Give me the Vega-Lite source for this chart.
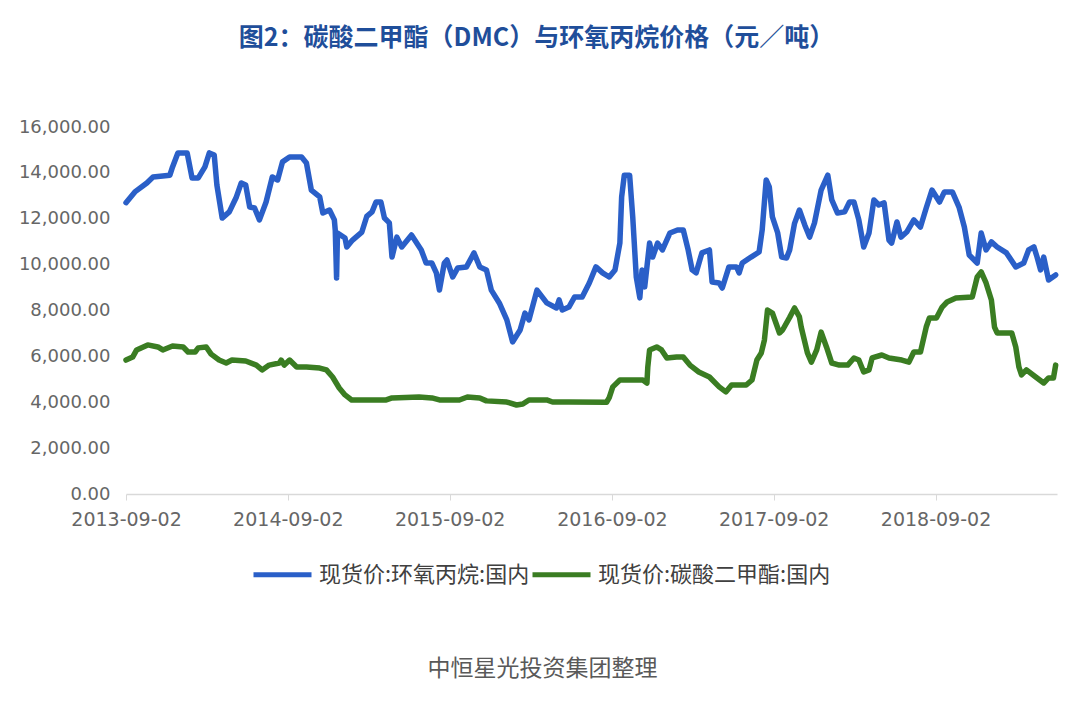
{
  "$schema": "https://vega.github.io/schema/vega-lite/v6.json",
  "autosize": {"type": "none"},
  "width": 931,
  "height": 367,
  "padding": {"left": 126, "top": 127, "right": 23, "bottom": 212},
  "background": "#ffffff",
  "title": {
    "text": "图2：碳酸二甲酯（DMC）与环氧丙烷价格（元／吨）",
    "font": "Noto Sans CJK SC",
    "fontSize": 25,
    "fontWeight": "bold",
    "color": "#1F4E9A",
    "anchor": "middle",
    "frame": "group",
    "offset": 67,
    "dx": -55
  },
  "config": {
    "view": {"stroke": null},
    "font": "Noto Sans CJK SC"
  },
  "data": {
    "values": [
      {"d": "2013-09-02", "s": "现货价:环氧丙烷:国内", "v": 12700},
      {"d": "2013-09-22", "s": "现货价:环氧丙烷:国内", "v": 13170},
      {"d": "2013-10-19", "s": "现货价:环氧丙烷:国内", "v": 13560},
      {"d": "2013-11-02", "s": "现货价:环氧丙烷:国内", "v": 13820},
      {"d": "2013-12-10", "s": "现货价:环氧丙烷:国内", "v": 13900},
      {"d": "2013-12-16", "s": "现货价:环氧丙烷:国内", "v": 14260},
      {"d": "2013-12-28", "s": "现货价:环氧丙烷:国内", "v": 14870},
      {"d": "2014-01-18", "s": "现货价:环氧丙烷:国内", "v": 14870},
      {"d": "2014-01-29", "s": "现货价:环氧丙烷:国内", "v": 13780},
      {"d": "2014-02-12", "s": "现货价:环氧丙烷:国内", "v": 13780},
      {"d": "2014-02-27", "s": "现货价:环氧丙烷:国内", "v": 14260},
      {"d": "2014-03-09", "s": "现货价:环氧丙烷:国内", "v": 14870},
      {"d": "2014-03-20", "s": "现货价:环氧丙烷:国内", "v": 14780},
      {"d": "2014-03-26", "s": "现货价:环氧丙烷:国内", "v": 13470},
      {"d": "2014-04-07", "s": "现货价:环氧丙烷:国内", "v": 12030},
      {"d": "2014-04-23", "s": "现货价:环氧丙烷:国内", "v": 12300},
      {"d": "2014-05-09", "s": "现货价:环氧丙烷:国内", "v": 12950},
      {"d": "2014-05-20", "s": "现货价:环氧丙烷:国内", "v": 13560},
      {"d": "2014-05-30", "s": "现货价:环氧丙烷:国内", "v": 13470},
      {"d": "2014-06-08", "s": "现货价:环氧丙烷:国内", "v": 12510},
      {"d": "2014-06-19", "s": "现货价:环氧丙烷:国内", "v": 12470},
      {"d": "2014-06-30", "s": "现货价:环氧丙烷:国内", "v": 11950},
      {"d": "2014-07-15", "s": "现货价:环氧丙烷:国内", "v": 12730},
      {"d": "2014-07-29", "s": "现货价:环氧丙烷:国内", "v": 13820},
      {"d": "2014-08-10", "s": "现货价:环氧丙烷:国内", "v": 13690},
      {"d": "2014-08-21", "s": "现货价:环氧丙烷:国内", "v": 14480},
      {"d": "2014-09-06", "s": "现货价:环氧丙烷:国内", "v": 14690},
      {"d": "2014-10-03", "s": "现货价:环氧丙烷:国内", "v": 14690},
      {"d": "2014-10-14", "s": "现货价:环氧丙烷:国内", "v": 14430},
      {"d": "2014-10-25", "s": "现货价:环氧丙烷:国内", "v": 13250},
      {"d": "2014-11-13", "s": "现货价:环氧丙烷:国内", "v": 12950},
      {"d": "2014-11-20", "s": "现货价:环氧丙烷:国内", "v": 12250},
      {"d": "2014-12-05", "s": "现货价:环氧丙烷:国内", "v": 12380},
      {"d": "2014-12-16", "s": "现货价:环氧丙烷:国内", "v": 11950},
      {"d": "2014-12-18", "s": "现货价:环氧丙烷:国内", "v": 11500},
      {"d": "2014-12-21", "s": "现货价:环氧丙烷:国内", "v": 9420},
      {"d": "2014-12-23", "s": "现货价:环氧丙烷:国内", "v": 11380},
      {"d": "2015-01-09", "s": "现货价:环氧丙烷:国内", "v": 11160},
      {"d": "2015-01-13", "s": "现货价:环氧丙烷:国内", "v": 10770},
      {"d": "2015-01-26", "s": "现货价:环氧丙烷:国内", "v": 11070},
      {"d": "2015-02-16", "s": "现货价:环氧丙烷:国内", "v": 11420},
      {"d": "2015-02-27", "s": "现货价:环氧丙烷:国内", "v": 12100},
      {"d": "2015-03-11", "s": "现货价:环氧丙烷:国内", "v": 12300},
      {"d": "2015-03-20", "s": "现货价:环氧丙烷:国内", "v": 12730},
      {"d": "2015-03-31", "s": "现货价:环氧丙烷:国内", "v": 12730},
      {"d": "2015-04-08", "s": "现货价:环氧丙烷:国内", "v": 12030},
      {"d": "2015-04-19", "s": "现货价:环氧丙烷:国内", "v": 11820},
      {"d": "2015-04-25", "s": "现货价:环氧丙烷:国内", "v": 10330},
      {"d": "2015-05-06", "s": "现货价:环氧丙烷:国内", "v": 11200},
      {"d": "2015-05-17", "s": "现货价:环氧丙烷:国内", "v": 10770},
      {"d": "2015-06-08", "s": "现货价:环氧丙烷:国内", "v": 11290},
      {"d": "2015-06-30", "s": "现货价:环氧丙烷:国内", "v": 10640},
      {"d": "2015-07-11", "s": "现货价:环氧丙烷:国内", "v": 10070},
      {"d": "2015-07-24", "s": "现货价:环氧丙烷:国内", "v": 10070},
      {"d": "2015-08-03", "s": "现货价:环氧丙烷:国内", "v": 9640},
      {"d": "2015-08-10", "s": "现货价:环氧丙烷:国内", "v": 8890},
      {"d": "2015-08-21", "s": "现货价:环氧丙烷:国内", "v": 10070},
      {"d": "2015-08-27", "s": "现货价:环氧丙烷:国内", "v": 10200},
      {"d": "2015-09-09", "s": "现货价:环氧丙烷:国内", "v": 9460},
      {"d": "2015-09-20", "s": "现货价:环氧丙烷:国内", "v": 9850},
      {"d": "2015-10-10", "s": "现货价:环氧丙烷:国内", "v": 9900},
      {"d": "2015-10-27", "s": "现货价:环氧丙烷:国内", "v": 10510},
      {"d": "2015-11-09", "s": "现货价:环氧丙烷:国内", "v": 9900},
      {"d": "2015-11-24", "s": "现货价:环氧丙烷:国内", "v": 9770},
      {"d": "2015-12-05", "s": "现货价:环氧丙烷:国内", "v": 8890},
      {"d": "2015-12-23", "s": "现货价:环氧丙烷:国内", "v": 8330},
      {"d": "2016-01-09", "s": "现货价:环氧丙烷:国内", "v": 7590},
      {"d": "2016-01-22", "s": "现货价:环氧丙烷:国内", "v": 6630},
      {"d": "2016-02-08", "s": "现货价:环氧丙烷:国内", "v": 7150},
      {"d": "2016-02-19", "s": "现货价:环氧丙烷:国内", "v": 7890},
      {"d": "2016-02-28", "s": "现货价:环氧丙烷:国内", "v": 7590},
      {"d": "2016-03-17", "s": "现货价:环氧丙烷:国内", "v": 8890},
      {"d": "2016-04-08", "s": "现货价:环氧丙烷:国内", "v": 8330},
      {"d": "2016-04-30", "s": "现货价:环氧丙烷:国内", "v": 8110},
      {"d": "2016-05-06", "s": "现货价:环氧丙烷:国内", "v": 8460},
      {"d": "2016-05-13", "s": "现货价:环氧丙烷:国内", "v": 8020},
      {"d": "2016-05-28", "s": "现货价:环氧丙烷:国内", "v": 8150},
      {"d": "2016-06-10", "s": "现货价:环氧丙烷:国内", "v": 8590},
      {"d": "2016-06-27", "s": "现货价:环氧丙烷:国内", "v": 8590},
      {"d": "2016-07-13", "s": "现货价:环氧丙烷:国内", "v": 9200},
      {"d": "2016-07-28", "s": "现货价:环氧丙烷:国内", "v": 9900},
      {"d": "2016-08-12", "s": "现货价:环氧丙烷:国内", "v": 9640},
      {"d": "2016-08-27", "s": "现货价:环氧丙烷:国内", "v": 9460},
      {"d": "2016-09-09", "s": "现货价:环氧丙烷:国内", "v": 9770},
      {"d": "2016-09-20", "s": "现货价:环氧丙烷:国内", "v": 10940},
      {"d": "2016-09-24", "s": "现货价:环氧丙烷:国内", "v": 12950},
      {"d": "2016-09-30", "s": "现货价:环氧丙烷:国内", "v": 13900},
      {"d": "2016-10-12", "s": "现货价:环氧丙烷:国内", "v": 13900},
      {"d": "2016-10-19", "s": "现货价:环氧丙烷:国内", "v": 12080},
      {"d": "2016-10-27", "s": "现货价:环氧丙烷:国内", "v": 9460},
      {"d": "2016-11-04", "s": "现货价:环氧丙烷:国内", "v": 8550},
      {"d": "2016-11-09", "s": "现货价:环氧丙烷:国内", "v": 9770},
      {"d": "2016-11-15", "s": "现货价:环氧丙烷:国内", "v": 9030},
      {"d": "2016-11-26", "s": "现货价:环氧丙烷:国内", "v": 10940},
      {"d": "2016-12-03", "s": "现货价:环氧丙烷:国内", "v": 10330},
      {"d": "2016-12-14", "s": "现货价:环氧丙烷:国内", "v": 10940},
      {"d": "2016-12-25", "s": "现货价:环氧丙烷:国内", "v": 10640},
      {"d": "2017-01-11", "s": "现货价:环氧丙烷:国内", "v": 11380},
      {"d": "2017-01-28", "s": "现货价:环氧丙烷:国内", "v": 11510},
      {"d": "2017-02-10", "s": "现货价:环氧丙烷:国内", "v": 11510},
      {"d": "2017-02-21", "s": "现货价:环氧丙烷:国内", "v": 10640},
      {"d": "2017-03-02", "s": "现货价:环氧丙烷:国内", "v": 9770},
      {"d": "2017-03-11", "s": "现货价:环氧丙烷:国内", "v": 9640},
      {"d": "2017-03-24", "s": "现货价:环氧丙烷:国内", "v": 10510},
      {"d": "2017-04-10", "s": "现货价:环氧丙烷:国内", "v": 10640},
      {"d": "2017-04-16", "s": "现货价:环氧丙烷:国内", "v": 9240},
      {"d": "2017-05-02", "s": "现货价:环氧丙烷:国内", "v": 9200},
      {"d": "2017-05-09", "s": "现货价:环氧丙烷:国内", "v": 8980},
      {"d": "2017-05-24", "s": "现货价:环氧丙烷:国内", "v": 9900},
      {"d": "2017-06-10", "s": "现货价:环氧丙烷:国内", "v": 9900},
      {"d": "2017-06-16", "s": "现货价:环氧丙烷:国内", "v": 9640},
      {"d": "2017-06-23", "s": "现货价:环氧丙烷:国内", "v": 10070},
      {"d": "2017-07-13", "s": "现货价:环氧丙烷:国内", "v": 10330},
      {"d": "2017-07-31", "s": "现货价:环氧丙烷:国内", "v": 10550},
      {"d": "2017-08-07", "s": "现货价:环氧丙烷:国内", "v": 11510},
      {"d": "2017-08-16", "s": "现货价:环氧丙烷:国内", "v": 13690},
      {"d": "2017-08-23", "s": "现货价:环氧丙烷:国内", "v": 13390},
      {"d": "2017-08-30", "s": "现货价:环氧丙烷:国内", "v": 12080},
      {"d": "2017-09-11", "s": "现货价:环氧丙烷:国内", "v": 11380},
      {"d": "2017-09-20", "s": "现货价:环氧丙烷:国内", "v": 10330},
      {"d": "2017-10-01", "s": "现货价:环氧丙烷:国内", "v": 10290},
      {"d": "2017-10-08", "s": "现货价:环氧丙烷:国内", "v": 10640},
      {"d": "2017-10-19", "s": "现货价:环氧丙烷:国内", "v": 11800},
      {"d": "2017-10-30", "s": "现货价:环氧丙烷:国内", "v": 12380},
      {"d": "2017-11-11", "s": "现货价:环氧丙烷:国内", "v": 11730},
      {"d": "2017-11-22", "s": "现货价:环氧丙烷:国内", "v": 11200},
      {"d": "2017-12-03", "s": "现货价:环氧丙烷:国内", "v": 11820},
      {"d": "2017-12-18", "s": "现货价:环氧丙烷:国内", "v": 13250},
      {"d": "2018-01-02", "s": "现货价:环氧丙烷:国内", "v": 13900},
      {"d": "2018-01-11", "s": "现货价:环氧丙烷:国内", "v": 12820},
      {"d": "2018-01-24", "s": "现货价:环氧丙烷:国内", "v": 12250},
      {"d": "2018-02-09", "s": "现货价:环氧丙烷:国内", "v": 12300},
      {"d": "2018-02-20", "s": "现货价:环氧丙烷:国内", "v": 12730},
      {"d": "2018-03-02", "s": "现货价:环氧丙烷:国内", "v": 12730},
      {"d": "2018-03-13", "s": "现货价:环氧丙烷:国内", "v": 11950},
      {"d": "2018-03-24", "s": "现货价:环氧丙烷:国内", "v": 10770},
      {"d": "2018-04-05", "s": "现货价:环氧丙烷:国内", "v": 11380},
      {"d": "2018-04-16", "s": "现货价:环氧丙烷:国内", "v": 12820},
      {"d": "2018-04-27", "s": "现货价:环氧丙烷:国内", "v": 12600},
      {"d": "2018-05-09", "s": "现货价:环氧丙烷:国内", "v": 12690},
      {"d": "2018-05-20", "s": "现货价:环氧丙烷:国内", "v": 11070},
      {"d": "2018-05-26", "s": "现货价:环氧丙烷:国内", "v": 10940},
      {"d": "2018-06-07", "s": "现货价:环氧丙烷:国内", "v": 11860},
      {"d": "2018-06-16", "s": "现货价:环氧丙烷:国内", "v": 11200},
      {"d": "2018-06-29", "s": "现货价:环氧丙烷:国内", "v": 11420},
      {"d": "2018-07-15", "s": "现货价:环氧丙烷:国内", "v": 11950},
      {"d": "2018-07-30", "s": "现货价:环氧丙烷:国内", "v": 11640},
      {"d": "2018-08-12", "s": "现货价:环氧丙烷:国内", "v": 12470},
      {"d": "2018-08-25", "s": "现货价:环氧丙烷:国内", "v": 13250},
      {"d": "2018-09-11", "s": "现货价:环氧丙烷:国内", "v": 12730},
      {"d": "2018-09-22", "s": "现货价:环氧丙烷:国内", "v": 13170},
      {"d": "2018-10-10", "s": "现货价:环氧丙烷:国内", "v": 13170},
      {"d": "2018-10-25", "s": "现货价:环氧丙烷:国内", "v": 12510},
      {"d": "2018-11-06", "s": "现货价:环氧丙烷:国内", "v": 11640},
      {"d": "2018-11-17", "s": "现货价:环氧丙烷:国内", "v": 10420},
      {"d": "2018-12-05", "s": "现货价:环氧丙烷:国内", "v": 10070},
      {"d": "2018-12-14", "s": "现货价:环氧丙烷:国内", "v": 11380},
      {"d": "2018-12-25", "s": "现货价:环氧丙烷:国内", "v": 10640},
      {"d": "2019-01-06", "s": "现货价:环氧丙烷:国内", "v": 10990},
      {"d": "2019-01-19", "s": "现货价:环氧丙烷:国内", "v": 10770},
      {"d": "2019-02-09", "s": "现货价:环氧丙烷:国内", "v": 10510},
      {"d": "2019-03-02", "s": "现货价:环氧丙烷:国内", "v": 9900},
      {"d": "2019-03-20", "s": "现货价:环氧丙烷:国内", "v": 10070},
      {"d": "2019-03-31", "s": "现货价:环氧丙烷:国内", "v": 10640},
      {"d": "2019-04-12", "s": "现货价:环氧丙烷:国内", "v": 10770},
      {"d": "2019-04-19", "s": "现货价:环氧丙烷:国内", "v": 10330},
      {"d": "2019-04-27", "s": "现货价:环氧丙烷:国内", "v": 9770},
      {"d": "2019-05-04", "s": "现货价:环氧丙烷:国内", "v": 10330},
      {"d": "2019-05-15", "s": "现货价:环氧丙烷:国内", "v": 9330},
      {"d": "2019-05-31", "s": "现货价:环氧丙烷:国内", "v": 9550},

      {"d": "2013-09-02", "s": "现货价:碳酸二甲酯:国内", "v": 5840},
      {"d": "2013-09-17", "s": "现货价:碳酸二甲酯:国内", "v": 5970},
      {"d": "2013-09-26", "s": "现货价:碳酸二甲酯:国内", "v": 6280},
      {"d": "2013-10-21", "s": "现货价:碳酸二甲酯:国内", "v": 6500},
      {"d": "2013-11-13", "s": "现货价:碳酸二甲酯:国内", "v": 6410},
      {"d": "2013-11-24", "s": "现货价:碳酸二甲酯:国内", "v": 6280},
      {"d": "2013-12-16", "s": "现货价:碳酸二甲酯:国内", "v": 6450},
      {"d": "2014-01-09", "s": "现货价:碳酸二甲酯:国内", "v": 6410},
      {"d": "2014-01-20", "s": "现货价:碳酸二甲酯:国内", "v": 6190},
      {"d": "2014-02-05", "s": "现货价:碳酸二甲酯:国内", "v": 6190},
      {"d": "2014-02-12", "s": "现货价:碳酸二甲酯:国内", "v": 6370},
      {"d": "2014-03-02", "s": "现货价:碳酸二甲酯:国内", "v": 6410},
      {"d": "2014-03-13", "s": "现货价:碳酸二甲酯:国内", "v": 6100},
      {"d": "2014-03-31", "s": "现货价:碳酸二甲酯:国内", "v": 5840},
      {"d": "2014-04-16", "s": "现货价:碳酸二甲酯:国内", "v": 5710},
      {"d": "2014-04-29", "s": "现货价:碳酸二甲酯:国内", "v": 5840},
      {"d": "2014-05-30", "s": "现货价:碳酸二甲酯:国内", "v": 5800},
      {"d": "2014-06-23", "s": "现货价:碳酸二甲酯:国内", "v": 5620},
      {"d": "2014-07-06", "s": "现货价:碳酸二甲酯:国内", "v": 5410},
      {"d": "2014-07-22", "s": "现货价:碳酸二甲酯:国内", "v": 5620},
      {"d": "2014-08-14", "s": "现货价:碳酸二甲酯:国内", "v": 5710},
      {"d": "2014-08-18", "s": "现货价:碳酸二甲酯:国内", "v": 5840},
      {"d": "2014-08-25", "s": "现货价:碳酸二甲酯:国内", "v": 5620},
      {"d": "2014-09-06", "s": "现货价:碳酸二甲酯:国内", "v": 5840},
      {"d": "2014-09-22", "s": "现货价:碳酸二甲酯:国内", "v": 5540},
      {"d": "2014-10-14", "s": "现货价:碳酸二甲酯:国内", "v": 5540},
      {"d": "2014-11-13", "s": "现货价:碳酸二甲酯:国内", "v": 5490},
      {"d": "2014-11-28", "s": "现货价:碳酸二甲酯:国内", "v": 5410},
      {"d": "2014-12-12", "s": "现货价:碳酸二甲酯:国内", "v": 5100},
      {"d": "2014-12-27", "s": "现货价:碳酸二甲酯:国内", "v": 4620},
      {"d": "2015-01-09", "s": "现货价:碳酸二甲酯:国内", "v": 4320},
      {"d": "2015-01-24", "s": "现货价:碳酸二甲酯:国内", "v": 4100},
      {"d": "2015-04-12", "s": "现货价:碳酸二甲酯:国内", "v": 4100},
      {"d": "2015-04-25", "s": "现货价:碳酸二甲酯:国内", "v": 4190},
      {"d": "2015-06-25", "s": "现货价:碳酸二甲酯:国内", "v": 4230},
      {"d": "2015-07-24", "s": "现货价:碳酸二甲酯:国内", "v": 4190},
      {"d": "2015-08-10", "s": "现货价:碳酸二甲酯:国内", "v": 4100},
      {"d": "2015-09-24", "s": "现货价:碳酸二甲酯:国内", "v": 4100},
      {"d": "2015-10-12", "s": "现货价:碳酸二甲酯:国内", "v": 4230},
      {"d": "2015-11-09", "s": "现货价:碳酸二甲酯:国内", "v": 4190},
      {"d": "2015-11-24", "s": "现货价:碳酸二甲酯:国内", "v": 4060},
      {"d": "2016-01-09", "s": "现货价:碳酸二甲酯:国内", "v": 4010},
      {"d": "2016-01-31", "s": "现货价:碳酸二甲酯:国内", "v": 3880},
      {"d": "2016-02-14", "s": "现货价:碳酸二甲酯:国内", "v": 3920},
      {"d": "2016-02-28", "s": "现货价:碳酸二甲酯:国内", "v": 4100},
      {"d": "2016-04-08", "s": "现货价:碳酸二甲酯:国内", "v": 4100},
      {"d": "2016-04-21", "s": "现货价:碳酸二甲酯:国内", "v": 4010},
      {"d": "2016-05-28", "s": "现货价:碳酸二甲酯:国内", "v": 4010},
      {"d": "2016-08-21", "s": "现货价:碳酸二甲酯:国内", "v": 4000},
      {"d": "2016-08-27", "s": "现货价:碳酸二甲酯:国内", "v": 4200},
      {"d": "2016-09-04", "s": "现货价:碳酸二甲酯:国内", "v": 4670},
      {"d": "2016-09-20", "s": "现货价:碳酸二甲酯:国内", "v": 4970},
      {"d": "2016-11-11", "s": "现货价:碳酸二甲酯:国内", "v": 4970},
      {"d": "2016-11-20", "s": "现货价:碳酸二甲酯:国内", "v": 4840},
      {"d": "2016-11-22", "s": "现货价:碳酸二甲酯:国内", "v": 5540},
      {"d": "2016-11-26", "s": "现货价:碳酸二甲酯:国内", "v": 6280},
      {"d": "2016-12-12", "s": "现货价:碳酸二甲酯:国内", "v": 6410},
      {"d": "2016-12-23", "s": "现货价:碳酸二甲酯:国内", "v": 6280},
      {"d": "2017-01-04", "s": "现货价:碳酸二甲酯:国内", "v": 5930},
      {"d": "2017-01-26", "s": "现货价:碳酸二甲酯:国内", "v": 5970},
      {"d": "2017-02-10", "s": "现货价:碳酸二甲酯:国内", "v": 5970},
      {"d": "2017-02-25", "s": "现货价:碳酸二甲酯:国内", "v": 5620},
      {"d": "2017-03-17", "s": "现货价:碳酸二甲酯:国内", "v": 5320},
      {"d": "2017-04-10", "s": "现货价:碳酸二甲酯:国内", "v": 5100},
      {"d": "2017-05-02", "s": "现货价:碳酸二甲酯:国内", "v": 4670},
      {"d": "2017-05-17", "s": "现货价:碳酸二甲酯:国内", "v": 4450},
      {"d": "2017-05-30", "s": "现货价:碳酸二甲酯:国内", "v": 4750},
      {"d": "2017-07-02", "s": "现货价:碳酸二甲酯:国内", "v": 4750},
      {"d": "2017-07-15", "s": "现货价:碳酸二甲酯:国内", "v": 4970},
      {"d": "2017-07-26", "s": "现货价:碳酸二甲酯:国内", "v": 5840},
      {"d": "2017-08-05", "s": "现货价:碳酸二甲酯:国内", "v": 6150},
      {"d": "2017-08-12", "s": "现货价:碳酸二甲酯:国内", "v": 6710},
      {"d": "2017-08-19", "s": "现货价:碳酸二甲酯:国内", "v": 8020},
      {"d": "2017-08-30", "s": "现货价:碳酸二甲酯:国内", "v": 7890},
      {"d": "2017-09-15", "s": "现货价:碳酸二甲酯:国内", "v": 7020},
      {"d": "2017-09-22", "s": "现货价:碳酸二甲酯:国内", "v": 7150},
      {"d": "2017-10-08", "s": "现货价:碳酸二甲酯:国内", "v": 7700},
      {"d": "2017-10-19", "s": "现货价:碳酸二甲酯:国内", "v": 8110},
      {"d": "2017-10-30", "s": "现货价:碳酸二甲酯:国内", "v": 7720},
      {"d": "2017-11-03", "s": "现货价:碳酸二甲酯:国内", "v": 7280},
      {"d": "2017-11-17", "s": "现货价:碳酸二甲酯:国内", "v": 6150},
      {"d": "2017-11-26", "s": "现货价:碳酸二甲酯:国内", "v": 5750},
      {"d": "2017-12-08", "s": "现货价:碳酸二甲酯:国内", "v": 6280},
      {"d": "2017-12-18", "s": "现货价:碳酸二甲酯:国内", "v": 7060},
      {"d": "2017-12-30", "s": "现货价:碳酸二甲酯:国内", "v": 6410},
      {"d": "2018-01-11", "s": "现货价:碳酸二甲酯:国内", "v": 5710},
      {"d": "2018-01-28", "s": "现货价:碳酸二甲酯:国内", "v": 5620},
      {"d": "2018-02-16", "s": "现货价:碳酸二甲酯:国内", "v": 5620},
      {"d": "2018-03-02", "s": "现货价:碳酸二甲酯:国内", "v": 5930},
      {"d": "2018-03-13", "s": "现货价:碳酸二甲酯:国内", "v": 5840},
      {"d": "2018-03-24", "s": "现货价:碳酸二甲酯:国内", "v": 5320},
      {"d": "2018-04-05", "s": "现货价:碳酸二甲酯:国内", "v": 5410},
      {"d": "2018-04-12", "s": "现货价:碳酸二甲酯:国内", "v": 5930},
      {"d": "2018-05-04", "s": "现货价:碳酸二甲酯:国内", "v": 6060},
      {"d": "2018-05-20", "s": "现货价:碳酸二甲酯:国内", "v": 5930},
      {"d": "2018-06-18", "s": "现货价:碳酸二甲酯:国内", "v": 5840},
      {"d": "2018-07-04", "s": "现货价:碳酸二甲酯:国内", "v": 5750},
      {"d": "2018-07-15", "s": "现货价:碳酸二甲酯:国内", "v": 6190},
      {"d": "2018-07-30", "s": "现货价:碳酸二甲酯:国内", "v": 6190},
      {"d": "2018-08-12", "s": "现货价:碳酸二甲酯:国内", "v": 7280},
      {"d": "2018-08-19", "s": "现货价:碳酸二甲酯:国内", "v": 7670},
      {"d": "2018-09-04", "s": "现货价:碳酸二甲酯:国内", "v": 7670},
      {"d": "2018-09-17", "s": "现货价:碳酸二甲酯:国内", "v": 8150},
      {"d": "2018-09-28", "s": "现货价:碳酸二甲酯:国内", "v": 8370},
      {"d": "2018-10-18", "s": "现货价:碳酸二甲酯:国内", "v": 8550},
      {"d": "2018-11-24", "s": "现货价:碳酸二甲酯:国内", "v": 8590},
      {"d": "2018-12-05", "s": "现货价:碳酸二甲酯:国内", "v": 9460},
      {"d": "2018-12-14", "s": "现货价:碳酸二甲酯:国内", "v": 9680},
      {"d": "2018-12-25", "s": "现货价:碳酸二甲酯:国内", "v": 9200},
      {"d": "2019-01-06", "s": "现货价:碳酸二甲酯:国内", "v": 8460},
      {"d": "2019-01-13", "s": "现货价:碳酸二甲酯:国内", "v": 7280},
      {"d": "2019-01-19", "s": "现货价:碳酸二甲酯:国内", "v": 7020},
      {"d": "2019-02-21", "s": "现货价:碳酸二甲酯:国内", "v": 7020},
      {"d": "2019-03-02", "s": "现货价:碳酸二甲酯:国内", "v": 6410},
      {"d": "2019-03-09", "s": "现货价:碳酸二甲酯:国内", "v": 5540},
      {"d": "2019-03-15", "s": "现货价:碳酸二甲酯:国内", "v": 5190},
      {"d": "2019-03-26", "s": "现货价:碳酸二甲酯:国内", "v": 5410},
      {"d": "2019-04-16", "s": "现货价:碳酸二甲酯:国内", "v": 5100},
      {"d": "2019-05-04", "s": "现货价:碳酸二甲酯:国内", "v": 4840},
      {"d": "2019-05-15", "s": "现货价:碳酸二甲酯:国内", "v": 5060},
      {"d": "2019-05-26", "s": "现货价:碳酸二甲酯:国内", "v": 5060},
      {"d": "2019-05-31", "s": "现货价:碳酸二甲酯:国内", "v": 5620}
    ]
  },
  "mark": {"type": "line", "strokeWidth": 5.5, "strokeJoin": "round", "strokeCap": "round"},
  "encoding": {
    "x": {
      "field": "d",
      "type": "temporal",
      "scale": {
        "type": "utc",
        "domain": [
          {"year": 2013, "month": 9, "date": 2, "utc": true},
          {"year": 2019, "month": 6, "date": 3, "utc": true}
        ]
      },
      "title": "中恒星光投资集团整理",
      "axis": {
        "values": [
          {"year": 2013, "month": 9, "date": 2, "utc": true},
          {"year": 2014, "month": 9, "date": 2, "utc": true},
          {"year": 2015, "month": 9, "date": 2, "utc": true},
          {"year": 2016, "month": 9, "date": 2, "utc": true},
          {"year": 2017, "month": 9, "date": 2, "utc": true},
          {"year": 2018, "month": 9, "date": 2, "utc": true}
        ],
        "labelExpr": "utcFormat(datum.value, '%Y-%m-%d')",
        "grid": false,
        "domainColor": "#d9d9d9",
        "domainWidth": 1.5,
        "tickColor": "#d9d9d9",
        "tickSize": 6,
        "tickWidth": 1,
        "labelPadding": 10,
        "labelFont": "DejaVu Sans",
        "labelFontSize": 19,
        "labelColor": "#666666",
        "labelOverlap": false,
        "labelFlush": false,
        "titleFont": "Noto Sans CJK SC",
        "titleFontSize": 23,
        "titleFontWeight": "normal",
        "titleColor": "#595959",
        "titleX": 416,
        "titleY": 174,
        "titleAlign": "center",
        "titleBaseline": "middle"
      }
    },
    "y": {
      "field": "v",
      "type": "quantitative",
      "scale": {"domain": [0, 16000], "nice": false},
      "title": null,
      "axis": {
        "values": [0, 2000, 4000, 6000, 8000, 10000, 12000, 14000, 16000],
        "format": ",.2f",
        "grid": false,
        "domain": false,
        "ticks": false,
        "labelPadding": 16,
        "labelFont": "DejaVu Sans",
        "labelFontSize": 18,
        "labelColor": "#666666"
      }
    },
    "color": {
      "field": "s",
      "type": "nominal",
      "scale": {
        "domain": ["现货价:环氧丙烷:国内", "现货价:碳酸二甲酯:国内"],
        "range": ["#2A5FC8", "#3A7D22"]
      },
      "legend": {
        "title": null,
        "orient": "none",
        "legendX": 125,
        "legendY": 416,
        "direction": "horizontal",
        "symbolType": "stroke",
        "symbolSize": 3364,
        "symbolStrokeWidth": 5,
        "labelFont": "Noto Sans CJK SC",
        "labelFontSize": 22,
        "labelColor": "#404040",
        "labelOffset": 5,
        "columnPadding": -8,
        "labelLimit": 400
      }
    }
  }
}
